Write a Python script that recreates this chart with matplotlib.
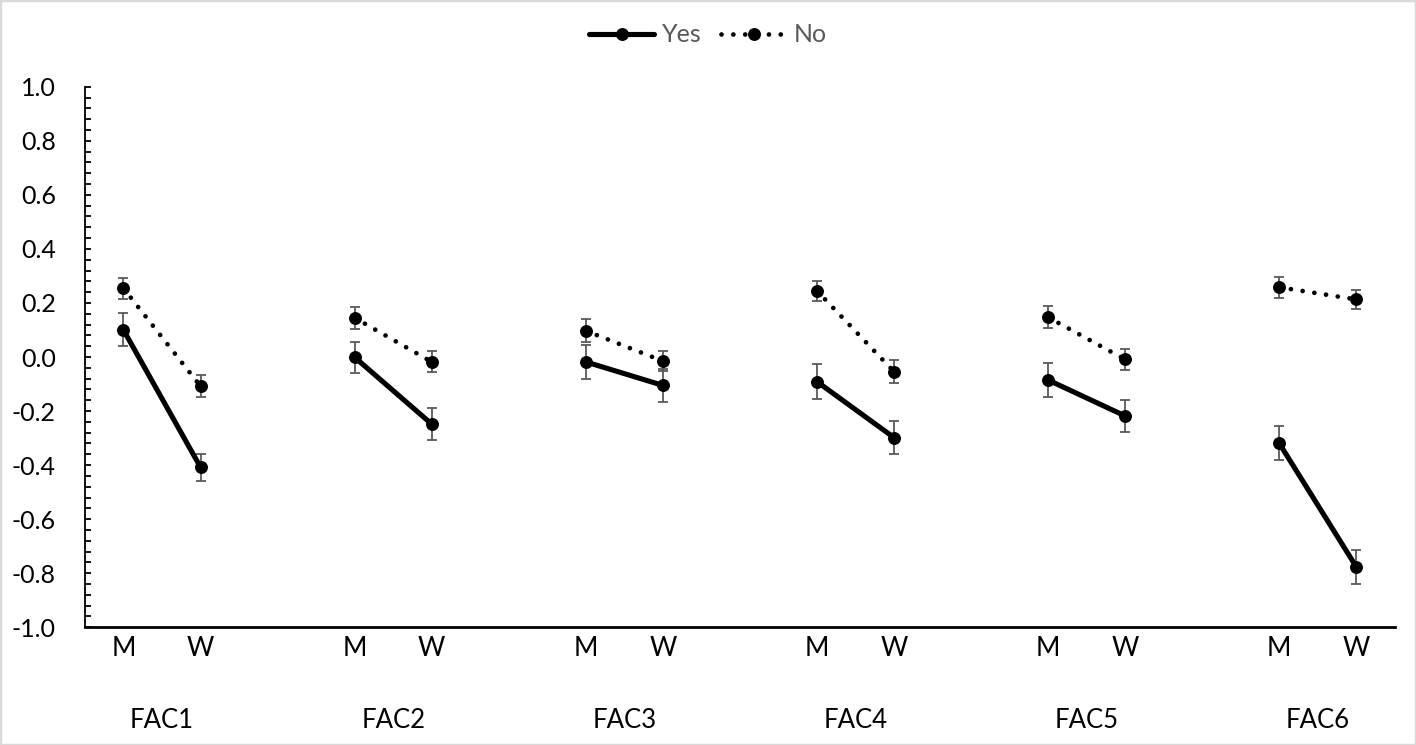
import matplotlib
matplotlib.use('Agg')
import matplotlib.pyplot as plt
import matplotlib.transforms as mtransforms
from matplotlib.patches import Rectangle
from matplotlib.ticker import MultipleLocator, FormatStrFormatter
import numpy as np

factors = ['FAC1', 'FAC2', 'FAC3', 'FAC4', 'FAC5', 'FAC6']
sexes = ['M', 'W']

# means per factor: [M, W]
yes_vals = [[0.10, -0.408], [-0.001, -0.248], [-0.018, -0.105],
            [-0.091, -0.298], [-0.085, -0.218], [-0.319, -0.776]]
no_vals = [[0.254, -0.108], [0.145, -0.018], [0.097, -0.015],
           [0.245, -0.054], [0.147, -0.009], [0.258, 0.213]]
yes_err = [[0.061, 0.050], [0.058, 0.058], [0.062, 0.060],
           [0.064, 0.060], [0.063, 0.059], [0.063, 0.063]]
no_err = [[0.039, 0.040], [0.041, 0.039], [0.042, 0.038],
          [0.038, 0.042], [0.041, 0.039], [0.039, 0.036]]

plt.rcParams['font.family'] = ['Lato', 'DejaVu Sans']
plt.rcParams['axes.unicode_minus'] = False

fig = plt.figure(figsize=(14.16, 7.45), dpi=100)
ax = fig.add_axes([0.060, 0.158, 0.925, 0.7256])

errc = '#595959'
for g in range(len(factors)):
    x = [3 * g, 3 * g + 1]
    ax.errorbar(x, yes_vals[g], yerr=yes_err[g], fmt='none', ecolor=errc,
                elinewidth=1.3, capsize=3.8, capthick=1.3, zorder=2)
    ax.errorbar(x, no_vals[g], yerr=no_err[g], fmt='none', ecolor=errc,
                elinewidth=1.3, capsize=3.8, capthick=1.3, zorder=2)
    l1, = ax.plot(x, yes_vals[g], color='black', lw=3.7, marker='o',
                  markersize=8.3, solid_capstyle='round', zorder=3)
    l2, = ax.plot(x, no_vals[g], color='black', lw=3.4, marker='o',
                  markersize=8.3, dashes=(0.01, 2.5), dash_capstyle='round',
                  zorder=3)

ax.set_xlim(-0.5, 16.5)
ax.set_ylim(-1.0, 1.0)
ax.yaxis.set_major_locator(MultipleLocator(0.2))
ax.yaxis.set_minor_locator(MultipleLocator(0.04))
ax.yaxis.set_major_formatter(FormatStrFormatter('%.1f'))
ax.tick_params(axis='y', which='both', direction='in', length=4.5, width=1.3,
               pad=21, labelsize=18, colors='black')

xt = []
xl = []
for g in range(len(factors)):
    xt += [3 * g, 3 * g + 1]
    xl += sexes
ax.set_xticks(xt)
ax.set_xticklabels(xl)
ax.tick_params(axis='x', length=0, pad=6, labelsize=19)

trans = mtransforms.blended_transform_factory(ax.transData, fig.transFigure)
for g, name in enumerate(factors):
    ax.text(3 * g + 0.5, 1 - 720 / 745, name, transform=trans, ha='center',
            va='center', fontsize=18.5)

for s in ['top', 'right']:
    ax.spines[s].set_visible(False)
ax.spines['left'].set_linewidth(1.3)
ax.spines['bottom'].set_linewidth(2)

fig.legend([l1, l2], ['Yes', 'No'], loc='center', bbox_to_anchor=(0.5, 1 - 35 / 745),
           ncol=2, frameon=False, fontsize=18, labelcolor='#595959',
           handlelength=2.6, handletextpad=0.3, columnspacing=0.8)

fig.patches.append(Rectangle((0, 0), 1, 1, transform=fig.transFigure,
                             fill=False, edgecolor='#d9d9d9', lw=2.5))

fig.savefig('out.png', dpi=100)
